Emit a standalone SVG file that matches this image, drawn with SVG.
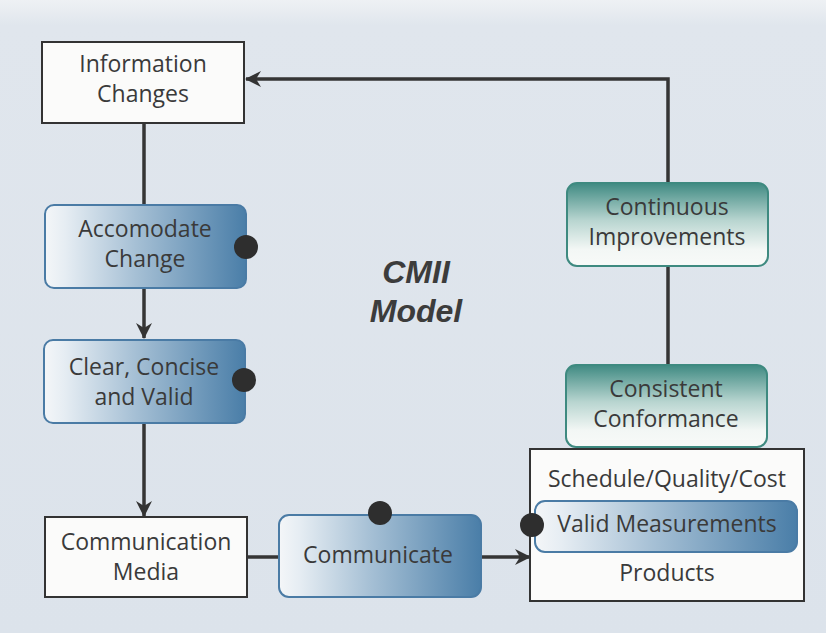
<svg xmlns="http://www.w3.org/2000/svg" width="826" height="633" viewBox="0 0 826 633">
<defs>
<linearGradient id="blue" x1="0" y1="0" x2="1" y2="0">
<stop offset="0" stop-color="#f4f6f8"/>
<stop offset="0.1" stop-color="#e6edf3"/>
<stop offset="0.45" stop-color="#a6c0d5"/>
<stop offset="1" stop-color="#4a7ea8"/>
</linearGradient>
<linearGradient id="teal" x1="0" y1="0" x2="0" y2="1">
<stop offset="0" stop-color="#3f8a82"/>
<stop offset="0.45" stop-color="#b8d5d0"/>
<stop offset="0.8" stop-color="#f3f7f5"/>
<stop offset="1" stop-color="#f8faf8"/>
</linearGradient>
<linearGradient id="bg" x1="0" y1="0" x2="0" y2="1">
<stop offset="0" stop-color="#eef1f4"/>
<stop offset="0.04" stop-color="#e0e6ed"/>
<stop offset="1" stop-color="#dce3eb"/>
</linearGradient>
<marker id="arr" viewBox="0 0 16 17" refX="15" refY="8.5" markerWidth="16" markerHeight="17" markerUnits="userSpaceOnUse" orient="auto">
<path d="M0,0.5 L16,8.5 L0,16.5 L5,8.5 Z" fill="#333"/>
</marker>
<style>
.t{font-family:"Open Sans","Liberation Sans",sans-serif;font-size:23px;fill:#3a3a3a;text-anchor:middle}
.plain{fill:#fbfbfa;stroke:#333;stroke-width:2}
.bl{fill:url(#blue);stroke:#4a7ba5;stroke-width:2}
.tl{fill:url(#teal);stroke:#3e8a80;stroke-width:2}
.dot{fill:#2e2e2e}
.ln{stroke:#353535;stroke-width:3.5;fill:none}
.title{font-family:"Liberation Sans",Arial,sans-serif;font-weight:bold;font-style:italic;font-size:32px;fill:#3c3c3c;text-anchor:middle}
</style>
</defs>
<rect x="0" y="0" width="826" height="633" fill="url(#bg)"/>

<g id="connectors">
<line class="ln" x1="144" y1="123" x2="144" y2="205"/>
<line class="ln" x1="144" y1="288" x2="144" y2="338" marker-end="url(#arr)"/>
<line class="ln" x1="144" y1="423" x2="144" y2="516" marker-end="url(#arr)"/>
<line class="ln" x1="247" y1="557" x2="280" y2="557"/>
<line class="ln" x1="481" y1="557" x2="530" y2="557" marker-end="url(#arr)"/>
<line class="ln" x1="668" y1="365" x2="668" y2="266"/>
<polyline class="ln" points="668,183 668,79 246,79" marker-end="url(#arr)"/>
</g>

<g id="information-changes">
<rect class="plain" x="42" y="42" width="202" height="81"/>
<text class="t" x="143" y="72">Information</text>
<text class="t" x="143" y="102">Changes</text>
</g>

<g id="accomodate-change">
<rect class="bl" x="45" y="205" width="201" height="83" rx="9"/>
<circle class="dot" cx="246" cy="247" r="12"/>
<text class="t" x="145" y="237">Accomodate</text>
<text class="t" x="145" y="267">Change</text>
</g>

<g id="clear-concise">
<rect class="bl" x="44" y="340" width="201" height="83" rx="9"/>
<circle class="dot" cx="244" cy="380" r="12"/>
<text class="t" x="144" y="375">Clear, Concise</text>
<text class="t" x="144" y="405">and Valid</text>
</g>

<g id="communication-media">
<rect class="plain" x="45" y="517" width="202" height="80"/>
<text class="t" x="146" y="550">Communication</text>
<text class="t" x="146" y="580">Media</text>
</g>

<g id="communicate">
<rect class="bl" x="279" y="515" width="202" height="82" rx="10"/>
<circle class="dot" cx="380" cy="513" r="12"/>
<text class="t" x="378" y="563">Communicate</text>
</g>

<g id="products">
<rect class="plain" x="530" y="449" width="274" height="152"/>
<text class="t" x="667" y="487">Schedule/Quality/Cost</text>
<rect class="bl" x="535" y="501" width="262" height="51" rx="10"/>
<text class="t" x="667" y="532">Valid Measurements</text>
<circle class="dot" cx="532" cy="525" r="12"/>
<text class="t" x="667" y="581">Products</text>
</g>

<g id="consistent-conformance">
<rect class="tl" x="566" y="365" width="201" height="82" rx="10"/>
<text class="t" x="666" y="397">Consistent</text>
<text class="t" x="666" y="427">Conformance</text>
</g>

<g id="continuous-improvements">
<rect class="tl" x="567" y="183" width="201" height="83" rx="10"/>
<text class="t" x="667" y="215">Continuous</text>
<text class="t" x="667" y="245">Improvements</text>
</g>

<g id="title">
<text class="title" x="416" y="283">CMII</text>
<text class="title" x="416" y="322">Model</text>
</g>
</svg>
